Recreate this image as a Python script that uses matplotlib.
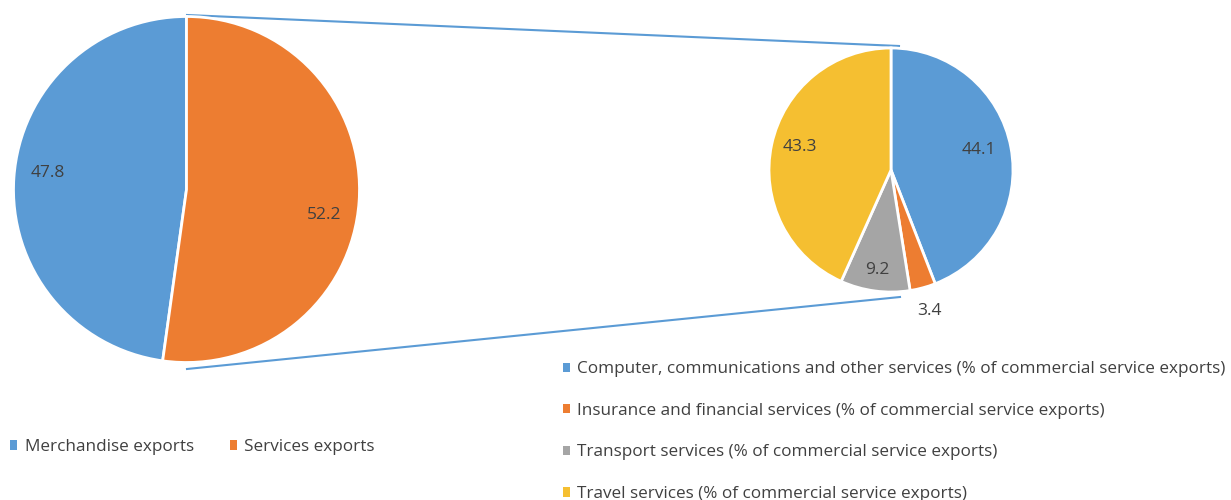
import numpy as np
import matplotlib
matplotlib.use("Agg")
import matplotlib.pyplot as plt
from matplotlib.patches import Patch

# ---- data ----
main_labels = ["Merchandise exports", "Services exports"]
main_values = [47.8, 52.2]
main_colors = ["#5B9BD5", "#ED7D31"]

sub_labels = [
    "Computer, communications and other services (% of commercial service exports)",
    "Insurance and financial services (% of commercial service exports)",
    "Transport services (% of commercial service exports)",
    "Travel services (% of commercial service exports)",
]
sub_values = [44.1, 3.4, 9.2, 43.3]
sub_colors = ["#5B9BD5", "#ED7D31", "#A5A5A5", "#F5BF31"]

# label placement styling (radius fraction, angle offset in degrees)
main_label_dist = [0.81, 0.81]
main_label_off = [-3, -6.5]
sub_label_dist = [0.74, 1.2, 0.83, 0.77]
sub_label_off = [2, 0, 0, -2]

W, H = 1231, 500
plt.rcParams['font.family'] = ['Open Sans', 'DejaVu Sans']
fig = plt.figure(figsize=(W / 100, H / 100), dpi=100)
ax = fig.add_axes([0, 0, 1, 1])

def py(y):
    return H - y

TXT = '#404040'
LBL_FS = 12.5
LEG_FS = 12.3

# left pie
c1 = (186.5, py(189.5)); r1 = 173
w1, _ = ax.pie(main_values, colors=main_colors, startangle=90, counterclock=True,
               center=c1, radius=r1, frame=True,
               wedgeprops=dict(edgecolor='white', linewidth=2))
for w, v, dist, off in zip(w1, main_values, main_label_dist, main_label_off):
    ang = np.deg2rad((w.theta1 + w.theta2) / 2 + off)
    d = dist * r1
    ax.text(c1[0] + d * np.cos(ang), c1[1] + d * np.sin(ang), f"{v}",
            ha='center', va='center', fontsize=LBL_FS, color=TXT)

# right pie
c2 = (891, py(170)); r2 = 122
w2, _ = ax.pie(sub_values, colors=sub_colors, startangle=90, counterclock=False,
               center=c2, radius=r2, frame=True,
               explode=[0, 0.03, 0.03, 0],
               wedgeprops=dict(edgecolor='white', linewidth=2))
for w, v, dist, off in zip(w2, sub_values, sub_label_dist, sub_label_off):
    ang = np.deg2rad((w.theta1 + w.theta2) / 2 + off)
    d = dist * r2
    ax.text(c2[0] + d * np.cos(ang), c2[1] + d * np.sin(ang), f"{v}",
            ha='center', va='center', fontsize=LBL_FS, color=TXT)

ax.set_xlim(0, W)
ax.set_ylim(0, H)
ax.set_aspect('equal')
ax.axis('off')

# connector lines
ax.plot([187, 899], [py(15), py(46)], color='#5B9BD5', lw=1.5, zorder=0)
ax.plot([187, 900], [py(369), py(297)], color='#5B9BD5', lw=1.5, zorder=0)

# legends
h1 = [Patch(facecolor=c, edgecolor='none') for c in main_colors]
h2 = [Patch(facecolor=c, edgecolor='none') for c in sub_colors]
leg1 = ax.legend(h1, main_labels, loc='center left', bbox_to_anchor=(0 / W, 1 - 447 / H),
                 bbox_transform=ax.transAxes, ncol=2, frameon=False, fontsize=LEG_FS,
                 handlelength=0.4, handleheight=0.45, handletextpad=0.45,
                 columnspacing=2.1, labelcolor=TXT, borderaxespad=0, borderpad=0.6)
ax.add_artist(leg1)
ax.legend(h2, sub_labels, loc='upper left', bbox_to_anchor=(553 / W, 1 - 351 / H),
          bbox_transform=ax.transAxes, ncol=1, frameon=False, fontsize=LEG_FS,
          handlelength=0.4, handleheight=0.45, handletextpad=0.42,
          labelspacing=1.5, labelcolor=TXT, borderaxespad=0, borderpad=0.6)

fig.savefig("out.png", dpi=100)
